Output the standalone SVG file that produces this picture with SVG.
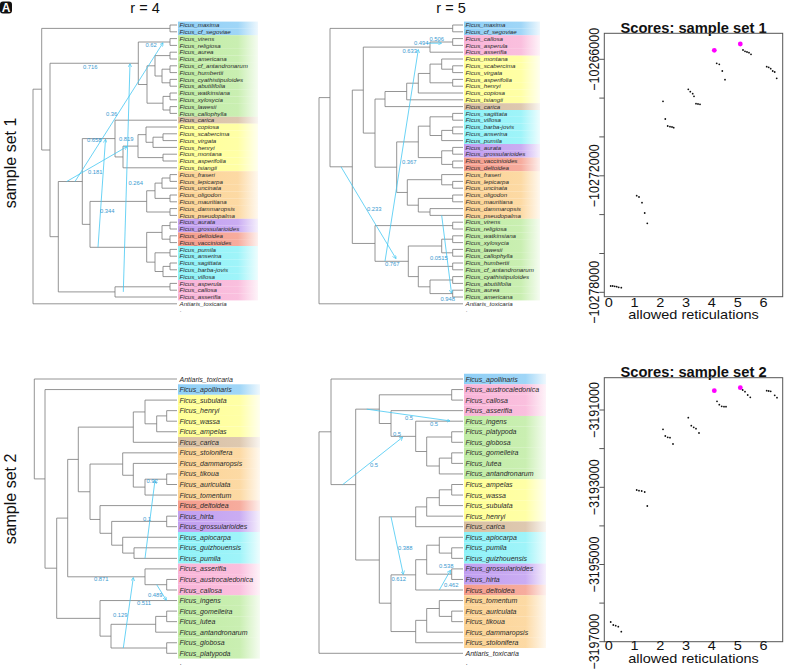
<svg xmlns="http://www.w3.org/2000/svg" width="785" height="670" viewBox="0 0 785 670">
<style>
.e{fill:none;stroke:#7a7a7a;stroke-width:0.8}
.r{fill:none;stroke:#45c8f2;stroke-width:0.8;marker-end:url(#ah)}
.rl{font-family:"Liberation Sans",Arial,sans-serif;font-size:5.8px;fill:#3a9ad0}
.lt{font-family:"Liberation Sans",Arial,sans-serif;font-style:italic;font-size:6.2px;fill:#2a2a2a}
.lb{font-family:"Liberation Sans",Arial,sans-serif;font-style:italic;font-size:7px;fill:#2a2a2a}
.ax{font-family:"Liberation Sans",Arial,sans-serif;font-size:14.5px;fill:#111}
.ti{font-family:"Liberation Sans",Arial,sans-serif;font-size:14.7px;font-weight:bold;fill:#111}
.hd{font-family:"Liberation Sans",Arial,sans-serif;font-size:16px;fill:#111}
.bB{fill:url(#gB)}.bG{fill:url(#gG)}.bBr{fill:url(#gBr)}.bY{fill:url(#gY)}.bO{fill:url(#gO)}.bP{fill:url(#gP)}.bR{fill:url(#gR)}.bC{fill:url(#gC)}.bK{fill:url(#gK)}
.box{fill:none;stroke:#555;stroke-width:1}
.tk{fill:none;stroke:#555;stroke-width:1}
.pt{fill:#111}
.mg{fill:#ff00ff}
</style>
<defs>
<marker id="ah" viewBox="0 0 10 10" refX="9" refY="5" markerWidth="4" markerHeight="4" orient="auto" markerUnits="userSpaceOnUse"><path d="M0,0 L9,5 L0,10" fill="none" stroke="#45c8f2" stroke-width="1.6"/></marker>
<linearGradient id="gB"><stop offset="0" stop-color="#8fcff6"/><stop offset="0.75" stop-color="#8fcff6" stop-opacity="0.85"/><stop offset="1" stop-color="#8fcff6" stop-opacity="0.15"/></linearGradient>
<linearGradient id="gG"><stop offset="0" stop-color="#c0eca4"/><stop offset="0.75" stop-color="#c0eca4" stop-opacity="0.85"/><stop offset="1" stop-color="#c0eca4" stop-opacity="0.15"/></linearGradient>
<linearGradient id="gBr"><stop offset="0" stop-color="#d8bfa2"/><stop offset="0.75" stop-color="#d8bfa2" stop-opacity="0.85"/><stop offset="1" stop-color="#d8bfa2" stop-opacity="0.15"/></linearGradient>
<linearGradient id="gY"><stop offset="0" stop-color="#ffff96"/><stop offset="0.75" stop-color="#ffff96" stop-opacity="0.85"/><stop offset="1" stop-color="#ffff96" stop-opacity="0.15"/></linearGradient>
<linearGradient id="gO"><stop offset="0" stop-color="#fcd394"/><stop offset="0.75" stop-color="#fcd394" stop-opacity="0.85"/><stop offset="1" stop-color="#fcd394" stop-opacity="0.15"/></linearGradient>
<linearGradient id="gP"><stop offset="0" stop-color="#c19ef0"/><stop offset="0.75" stop-color="#c19ef0" stop-opacity="0.85"/><stop offset="1" stop-color="#c19ef0" stop-opacity="0.15"/></linearGradient>
<linearGradient id="gR"><stop offset="0" stop-color="#f59d8c"/><stop offset="0.75" stop-color="#f59d8c" stop-opacity="0.85"/><stop offset="1" stop-color="#f59d8c" stop-opacity="0.15"/></linearGradient>
<linearGradient id="gC"><stop offset="0" stop-color="#8ef2f8"/><stop offset="0.75" stop-color="#8ef2f8" stop-opacity="0.85"/><stop offset="1" stop-color="#8ef2f8" stop-opacity="0.15"/></linearGradient>
<linearGradient id="gK"><stop offset="0" stop-color="#f9b4d8"/><stop offset="0.75" stop-color="#f9b4d8" stop-opacity="0.85"/><stop offset="1" stop-color="#f9b4d8" stop-opacity="0.15"/></linearGradient>
</defs>
<rect width="785" height="670" fill="#fff"/>

<g id="headers">
<rect x="0" y="1.5" width="12" height="12" rx="3" fill="#111"/>
<text x="6" y="12" text-anchor="middle" style="font-family:'Liberation Sans',Arial,sans-serif;font-size:12px;font-weight:bold;fill:#fff">A</text>
<text class="hd" x="145" y="12.5" text-anchor="middle" style="font-size:14.5px">r = 4</text>
<text class="hd" x="451" y="12.5" text-anchor="middle" style="font-size:14.5px">r = 5</text>
<text class="hd" transform="translate(15.5,163) rotate(-90)" text-anchor="middle">sample set 1</text>
<text class="hd" transform="translate(15.5,499) rotate(-90)" text-anchor="middle">sample set 2</text>
</g>

<g id="connectors">
<path id="tl-edges" class="e" d="M170 25V31.8M170 25H177M170 31.8H177M170 38.6V45.4M170 38.6H177M170 45.4H177M170 52.2V59M170 52.2H177M170 59H177M170 65.8V72.6M170 65.8H177M170 72.6H177M170 79.4V86.2M170 79.4H177M170 86.2H177M170 93V99.8M170 93H177M170 99.8H177M170 106.6V113.4M170 106.6H177M170 113.4H177M162 69.2V82.8M162 69.2H170M162 82.8H170M155 55.6V76M155 55.6H170M155 76H162M163 96.4V110M163 96.4H170M163 110H170M147 65.8V103.2M147 65.8H155M147 103.2H163M138.3 42V84.5M138.3 42H170M138.3 84.5H147M115 120.2H177M146 127H177M163 133.8V140.6M163 133.8H177M163 140.6H177M153 137.2V147.4M153 137.2H163M153 147.4H177M146 127V142.3M146 142.3H153M163 154.2V161M163 154.2H177M163 161H177M138 134.65V157.6M138 134.65H146M138 157.6H163M123 146.1V167.8M123 146.1H138M123 167.8H177M115 120.2V156.95M115 156.95H123M170 174.6V181.4M170 174.6H177M170 181.4H177M162 178V188.2M162 178H170M162 188.2H177M170 195V201.8M170 195H177M170 201.8H177M155 183.1V198.4M155 183.1H162M155 198.4H170M170 208.6V215.4M170 208.6H177M170 215.4H177M146.7 190.75V212M146.7 190.75H155M146.7 212H170M170 222.2V229M170 222.2H177M170 229H177M170 235.8V242.6M170 235.8H177M170 242.6H177M162 225.6V239.2M162 225.6H170M162 239.2H170M170 249.4V256.2M170 249.4H177M170 256.2H177M170 263V269.8M170 263H177M170 269.8H177M163 266.4V276.6M163 266.4H170M163 276.6H177M155 252.8V271.5M155 252.8H170M155 271.5H163M146.7 232.4V262.15M146.7 232.4H162M146.7 262.15H155M90 201.4V247.3M90 201.4H146.7M90 247.3H146.7M82.3 138.6V224.35M82.3 138.6H115M82.3 224.35H90M170 283.4V290.2M170 283.4H177M170 290.2H177M115 286.8V297M115 286.8H170M115 297H177M58.3 181.5V291.9M58.3 181.5H82.3M58.3 291.9H115M50 63.25V236.7M50 63.25H138.3M50 236.7H58.3M41.7 28.4V150M41.7 28.4H170M41.7 150H50M33 89.2V303.8M33 89.2H41.7M33 303.8H177"/>
<path id="tm-edges" class="e" d="M452.7 25V31.8M452.7 25H463M452.7 31.8H463M452.7 38.6V45.4M452.7 38.6H463M452.7 45.4H463M430 42V52.2M430 42H452.7M430 52.2H463M452.7 65.8V72.6M452.7 65.8H463M452.7 72.6H463M441.7 59V69.2M441.7 59H463M441.7 69.2H452.7M452.7 79.4V86.2M452.7 79.4H463M452.7 86.2H463M430 64.1V82.8M430 64.1H441.7M430 82.8H452.7M418.3 73.45V93M418.3 73.45H430M418.3 93H463M406.7 83.2V99.8M406.7 83.2H418.3M406.7 99.8H463M385 91.5V106.6M385 91.5H406.7M385 106.6H463M452.7 113.4V120.2M452.7 113.4H463M452.7 120.2H463M452.7 127V133.8M452.7 127H463M452.7 133.8H463M441.7 130.4V140.6M441.7 130.4H452.7M441.7 140.6H463M430 116.8V135.5M430 116.8H452.7M430 135.5H441.7M452.7 147.4V154.2M452.7 147.4H463M452.7 154.2H463M452.7 161V167.8M452.7 161H463M452.7 167.8H463M441.7 150.8V164.4M441.7 150.8H452.7M441.7 164.4H452.7M418.3 126.15V157.6M418.3 126.15H430M418.3 157.6H441.7M452.7 181.4V188.2M452.7 181.4H463M452.7 188.2H463M441.7 174.6V184.8M441.7 174.6H463M441.7 184.8H452.7M452.7 195V201.8M452.7 195H463M452.7 201.8H463M430 208.6V215.4M430 208.6H463M430 215.4H463M418.3 198.4V212M418.3 198.4H452.7M418.3 212H430M407.3 179.7V205.2M407.3 179.7H441.7M407.3 205.2H418.3M396.7 141.9V192.45M396.7 141.9H418.3M396.7 192.45H407.3M375 99.05V167.2M375 99.05H385M375 167.2H396.7M363.3 47.1V133.1M363.3 47.1H430M363.3 133.1H375M452.7 222.2V229M452.7 222.2H463M452.7 229H463M452.7 235.8V242.6M452.7 235.8H463M452.7 242.6H463M452.7 249.4V256.2M452.7 249.4H463M452.7 256.2H463M441.7 239.2V252.8M441.7 239.2H452.7M441.7 252.8H452.7M452.7 263V269.8M452.7 263H463M452.7 269.8H463M452.7 276.6V283.4M452.7 276.6H463M452.7 283.4H463M452.7 290.2V297M452.7 290.2H463M452.7 297H463M430 280V293.6M430 280H452.7M430 293.6H452.7M418.3 266.4V286.8M418.3 266.4H452.7M418.3 286.8H430M408.3 246V276.6M408.3 246H441.7M408.3 276.6H418.3M375 225.6V261.3M375 225.6H452.7M375 261.3H408.3M352.3 90.1V243.45M352.3 90.1H363.3M352.3 243.45H375M330 28.4V166.8M330 28.4H452.7M330 166.8H352.3M319 97.6V303.8M319 97.6H330M319 303.8H463"/>
<path id="bl-edges" class="e" d="M34.3 379V478.9M34.3 379H177M34.3 478.9H45M45 389.55V568.2M45 389.55H177M45 568.2H56.7M166.7 410.65V421.2M166.7 410.65H177M166.7 421.2H177M156.7 415.9V431.75M156.7 415.9H166.7M156.7 431.75H177M145 400.1V423.8M145 400.1H177M145 423.8H156.7M133.3 411.95V442.3M133.3 411.95H145M133.3 442.3H177M166.7 473.95V484.5M166.7 473.95H177M166.7 484.5H177M145 479.2V495.05M145 479.2H166.7M145 495.05H177M133.3 463.4V487.1M133.3 463.4H177M133.3 487.1H145M122.7 452.85V475.25M122.7 452.85H177M122.7 475.25H133.3M166.7 516.15V526.7M166.7 516.15H177M166.7 526.7H177M134 547.8V558.35M134 547.8H177M134 558.35H177M122.7 537.25V553.1M122.7 537.25H177M122.7 553.1H134M111.7 521.4V545.2M111.7 521.4H166.7M111.7 545.2H122.7M100 505.6V533.3M100 505.6H177M100 533.3H111.7M90 464.05V519.45M90 464.05H122.7M90 519.45H100M78.3 427.1V491.75M78.3 427.1H133.3M78.3 491.75H90M166.7 579.45V590M166.7 579.45H177M166.7 590H177M145 568.9V584.7M145 568.9H177M145 584.7H166.7M67.7 459.4V576.8M67.7 459.4H78.3M67.7 576.8H145M166.7 611.1V621.65M166.7 611.1H177M166.7 621.65H177M155.7 616.4V632.2M155.7 616.4H166.7M155.7 632.2H177M166.7 642.75V653.3M166.7 642.75H177M166.7 653.3H177M111 624.3V648M111 624.3H155.7M111 648H166.7M100 600.55V636.15M100 600.55H177M100 636.15H111M56.7 518.1V618.35M56.7 518.1H67.7M56.7 618.35H100"/>
<path id="bm-edges" class="e" d="M319 431.8V653.3M319 431.8H331M319 653.3H463M331 379V484.6M331 379H463M331 484.6H355.7M451.7 389.55V400.1M451.7 389.55H463M451.7 400.1H463M451.7 431.75V442.3M451.7 431.75H463M451.7 442.3H463M451.7 452.85V463.4M451.7 452.85H463M451.7 463.4H463M439.3 458.1V473.95M439.3 458.1H451.7M439.3 473.95H463M426.7 437V466M426.7 437H451.7M426.7 466H439.3M415.7 421.2V451.5M415.7 421.2H463M415.7 451.5H426.7M391 410.65V436.35M391 410.65H463M391 436.35H415.7M379.3 394.8V423.5M379.3 394.8H451.7M379.3 423.5H391M451.7 484.5V495.05M451.7 484.5H463M451.7 495.05H463M439.3 489.8V505.6M439.3 489.8H451.7M439.3 505.6H463M426.7 497.7V516.15M426.7 497.7H439.3M426.7 516.15H463M415.7 506.9V526.7M415.7 506.9H426.7M415.7 526.7H463M451.7 547.8V558.35M451.7 547.8H463M451.7 558.35H463M439.3 537.25V553.1M439.3 537.25H463M439.3 553.1H451.7M451.7 568.9V579.45M451.7 568.9H463M451.7 579.45H463M426.7 545.2V574.2M426.7 545.2H439.3M426.7 574.2H451.7M415.7 559.7V590M415.7 559.7H426.7M415.7 590H463M451.7 611.1V621.65M451.7 611.1H463M451.7 621.65H463M439.3 600.55V616.4M439.3 600.55H463M439.3 616.4H451.7M426.7 608.5V632.2M426.7 608.5H439.3M426.7 632.2H463M415.7 620.35V642.75M415.7 620.35H426.7M415.7 642.75H463M391 574.85V631.55M391 574.85H415.7M391 631.55H415.7M379.3 516.8V603.2M379.3 516.8H415.7M379.3 603.2H391M355.7 409.15V560M355.7 409.15H379.3M355.7 560H379.3"/>
<g id="reticulations">
<path class="r" d="M75 181.5L163 42.8"/>
<path class="r" d="M66.7 181.5L127 146.6"/>
<path class="r" d="M98 247.3L105.5 139.2"/>
<path class="r" d="M123.3 291.9L130 63.8"/>
<path class="r" d="M427 43.2L441.5 43.2"/>
<path class="r" d="M385 261.3L418.3 49.6"/>
<path class="r" d="M341 166.8L396 258.6"/>
<path class="r" d="M441.7 215.4L451.5 293.2"/>
<path class="r" d="M145 558.35L155 480.2"/>
<path class="r" d="M123.3 648L133.3 577.6"/>
<path class="r" d="M156.7 584.7L166.3 600.2"/>
<path class="r" d="M366.7 409.15L450 420.9"/>
<path class="r" d="M342.7 484.6L402.7 437.2"/>
<path class="r" d="M391 516.8L403.3 574.4"/>
<path class="r" d="M439.3 590L450.5 570.2"/>
</g>
<g id="ret-labels">
<text class="rl" x="106" y="116">0.36</text>
<text class="rl" x="145.5" y="46.5">0.62</text>
<text class="rl" x="88" y="174">0.181</text>
<text class="rl" x="119" y="140.5">0.819</text>
<text class="rl" x="100" y="213">0.344</text>
<text class="rl" x="87" y="141.5">0.658</text>
<text class="rl" x="128.5" y="185">0.264</text>
<text class="rl" x="83" y="68.5">0.716</text>
<text class="rl" x="429.5" y="40.5">0.506</text>
<text class="rl" x="414" y="44.5">0.494</text>
<text class="rl" x="402.5" y="52.5">0.633</text>
<text class="rl" x="402" y="163.5">0.367</text>
<text class="rl" x="367" y="211">0.233</text>
<text class="rl" x="385" y="266">0.767</text>
<text class="rl" x="430" y="260">0.0515</text>
<text class="rl" x="440.5" y="301">0.948</text>
<text class="rl" x="146.5" y="483">0.92</text>
<text class="rl" x="143" y="521">0.1</text>
<text class="rl" x="113" y="617">0.129</text>
<text class="rl" x="94" y="581">0.871</text>
<text class="rl" x="148" y="597">0.489</text>
<text class="rl" x="137" y="605">0.511</text>
<text class="rl" x="405" y="420">0.5</text>
<text class="rl" x="430" y="426">0.5</text>
<text class="rl" x="370" y="467">0.5</text>
<text class="rl" x="393" y="436">0.5</text>
<text class="rl" x="398" y="550">0.388</text>
<text class="rl" x="391.5" y="581">0.612</text>
<text class="rl" x="439" y="567.5">0.538</text>
<text class="rl" x="444" y="587">0.462</text>
</g>
</g>

<g id="tl-leaves">
<g id="tl0"><rect class="bB" x="178" y="21.6" width="80" height="6.8"/><text class="lt" x="179.5" y="27.1">Ficus_maxima</text></g>
<g id="tl1"><rect class="bB" x="178" y="28.4" width="80" height="6.8"/><text class="lt" x="179.5" y="33.9">Ficus_cf_segoviae</text></g>
<g id="tl2"><rect class="bG" x="178" y="35.2" width="80" height="6.8"/><text class="lt" x="179.5" y="40.7">Ficus_virens</text></g>
<g id="tl3"><rect class="bG" x="178" y="42" width="80" height="6.8"/><text class="lt" x="179.5" y="47.5">Ficus_religiosa</text></g>
<g id="tl4"><rect class="bG" x="178" y="48.8" width="80" height="6.8"/><text class="lt" x="179.5" y="54.3">Ficus_aurea</text></g>
<g id="tl5"><rect class="bG" x="178" y="55.6" width="80" height="6.8"/><text class="lt" x="179.5" y="61.1">Ficus_americana</text></g>
<g id="tl6"><rect class="bG" x="178" y="62.4" width="80" height="6.8"/><text class="lt" x="179.5" y="67.9">Ficus_cf_antandronarum</text></g>
<g id="tl7"><rect class="bG" x="178" y="69.2" width="80" height="6.8"/><text class="lt" x="179.5" y="74.7">Ficus_humbertii</text></g>
<g id="tl8"><rect class="bG" x="178" y="76" width="80" height="6.8"/><text class="lt" x="179.5" y="81.5">Ficus_cyathistipuloides</text></g>
<g id="tl9"><rect class="bG" x="178" y="82.8" width="80" height="6.8"/><text class="lt" x="179.5" y="88.3">Ficus_abutilifolia</text></g>
<g id="tl10"><rect class="bG" x="178" y="89.6" width="80" height="6.8"/><text class="lt" x="179.5" y="95.1">Ficus_watkinsiana</text></g>
<g id="tl11"><rect class="bG" x="178" y="96.4" width="80" height="6.8"/><text class="lt" x="179.5" y="101.9">Ficus_xylosycia</text></g>
<g id="tl12"><rect class="bG" x="178" y="103.2" width="80" height="6.8"/><text class="lt" x="179.5" y="108.7">Ficus_lawesii</text></g>
<g id="tl13"><rect class="bG" x="178" y="110" width="80" height="6.8"/><text class="lt" x="179.5" y="115.5">Ficus_callophylla</text></g>
<g id="tl14"><rect class="bBr" x="178" y="116.8" width="80" height="6.8"/><text class="lt" x="179.5" y="122.3">Ficus_carica</text></g>
<g id="tl15"><rect class="bY" x="178" y="123.6" width="80" height="6.8"/><text class="lt" x="179.5" y="129.1">Ficus_copiosa</text></g>
<g id="tl16"><rect class="bY" x="178" y="130.4" width="80" height="6.8"/><text class="lt" x="179.5" y="135.9">Ficus_scabercima</text></g>
<g id="tl17"><rect class="bY" x="178" y="137.2" width="80" height="6.8"/><text class="lt" x="179.5" y="142.7">Ficus_virgata</text></g>
<g id="tl18"><rect class="bY" x="178" y="144" width="80" height="6.8"/><text class="lt" x="179.5" y="149.5">Ficus_henryi</text></g>
<g id="tl19"><rect class="bY" x="178" y="150.8" width="80" height="6.8"/><text class="lt" x="179.5" y="156.3">Ficus_montana</text></g>
<g id="tl20"><rect class="bY" x="178" y="157.6" width="80" height="6.8"/><text class="lt" x="179.5" y="163.1">Ficus_asperifolia</text></g>
<g id="tl21"><rect class="bY" x="178" y="164.4" width="80" height="6.8"/><text class="lt" x="179.5" y="169.9">Ficus_tsiangii</text></g>
<g id="tl22"><rect class="bO" x="178" y="171.2" width="80" height="6.8"/><text class="lt" x="179.5" y="176.7">Ficus_fraseri</text></g>
<g id="tl23"><rect class="bO" x="178" y="178" width="80" height="6.8"/><text class="lt" x="179.5" y="183.5">Ficus_lepicarpa</text></g>
<g id="tl24"><rect class="bO" x="178" y="184.8" width="80" height="6.8"/><text class="lt" x="179.5" y="190.3">Ficus_uncinata</text></g>
<g id="tl25"><rect class="bO" x="178" y="191.6" width="80" height="6.8"/><text class="lt" x="179.5" y="197.1">Ficus_oligodon</text></g>
<g id="tl26"><rect class="bO" x="178" y="198.4" width="80" height="6.8"/><text class="lt" x="179.5" y="203.9">Ficus_mauritiana</text></g>
<g id="tl27"><rect class="bO" x="178" y="205.2" width="80" height="6.8"/><text class="lt" x="179.5" y="210.7">Ficus_dammaropsis</text></g>
<g id="tl28"><rect class="bO" x="178" y="212" width="80" height="6.8"/><text class="lt" x="179.5" y="217.5">Ficus_pseudopalma</text></g>
<g id="tl29"><rect class="bP" x="178" y="218.8" width="80" height="6.8"/><text class="lt" x="179.5" y="224.3">Ficus_aurata</text></g>
<g id="tl30"><rect class="bP" x="178" y="225.6" width="80" height="6.8"/><text class="lt" x="179.5" y="231.1">Ficus_grossularioides</text></g>
<g id="tl31"><rect class="bR" x="178" y="232.4" width="80" height="6.8"/><text class="lt" x="179.5" y="237.9">Ficus_deltoidea</text></g>
<g id="tl32"><rect class="bR" x="178" y="239.2" width="80" height="6.8"/><text class="lt" x="179.5" y="244.7">Ficus_vaccinioides</text></g>
<g id="tl33"><rect class="bC" x="178" y="246" width="80" height="6.8"/><text class="lt" x="179.5" y="251.5">Ficus_pumila</text></g>
<g id="tl34"><rect class="bC" x="178" y="252.8" width="80" height="6.8"/><text class="lt" x="179.5" y="258.3">Ficus_anserina</text></g>
<g id="tl35"><rect class="bC" x="178" y="259.6" width="80" height="6.8"/><text class="lt" x="179.5" y="265.1">Ficus_sagittata</text></g>
<g id="tl36"><rect class="bC" x="178" y="266.4" width="80" height="6.8"/><text class="lt" x="179.5" y="271.9">Ficus_barba-jovis</text></g>
<g id="tl37"><rect class="bC" x="178" y="273.2" width="80" height="6.8"/><text class="lt" x="179.5" y="278.7">Ficus_villosa</text></g>
<g id="tl38"><rect class="bK" x="178" y="280" width="80" height="6.8"/><text class="lt" x="179.5" y="285.5">Ficus_asperula</text></g>
<g id="tl39"><rect class="bK" x="178" y="286.8" width="80" height="6.8"/><text class="lt" x="179.5" y="292.3">Ficus_callosa</text></g>
<g id="tl40"><rect class="bK" x="178" y="293.6" width="80" height="6.8"/><text class="lt" x="179.5" y="299.1">Ficus_asserifia</text></g>
<g id="tl41"><text class="lt" x="179.5" y="305.9">Antiaris_toxicaria</text></g>
<text class="lt" x="180" y="312" fill="#777">.</text>
</g>

<g id="tm-leaves">
<g id="tm0"><rect class="bB" x="464" y="21.6" width="76" height="6.8"/><text class="lt" x="465.5" y="27.1">Ficus_maxima</text></g>
<g id="tm1"><rect class="bB" x="464" y="28.4" width="76" height="6.8"/><text class="lt" x="465.5" y="33.9">Ficus_cf_segoviae</text></g>
<g id="tm2"><rect class="bK" x="464" y="35.2" width="76" height="6.8"/><text class="lt" x="465.5" y="40.7">Ficus_callosa</text></g>
<g id="tm3"><rect class="bK" x="464" y="42" width="76" height="6.8"/><text class="lt" x="465.5" y="47.5">Ficus_asperula</text></g>
<g id="tm4"><rect class="bK" x="464" y="48.8" width="76" height="6.8"/><text class="lt" x="465.5" y="54.3">Ficus_asserifia</text></g>
<g id="tm5"><rect class="bY" x="464" y="55.6" width="76" height="6.8"/><text class="lt" x="465.5" y="61.1">Ficus_montana</text></g>
<g id="tm6"><rect class="bY" x="464" y="62.4" width="76" height="6.8"/><text class="lt" x="465.5" y="67.9">Ficus_scabercima</text></g>
<g id="tm7"><rect class="bY" x="464" y="69.2" width="76" height="6.8"/><text class="lt" x="465.5" y="74.7">Ficus_virgata</text></g>
<g id="tm8"><rect class="bY" x="464" y="76" width="76" height="6.8"/><text class="lt" x="465.5" y="81.5">Ficus_asperifolia</text></g>
<g id="tm9"><rect class="bY" x="464" y="82.8" width="76" height="6.8"/><text class="lt" x="465.5" y="88.3">Ficus_henryi</text></g>
<g id="tm10"><rect class="bY" x="464" y="89.6" width="76" height="6.8"/><text class="lt" x="465.5" y="95.1">Ficus_copiosa</text></g>
<g id="tm11"><rect class="bY" x="464" y="96.4" width="76" height="6.8"/><text class="lt" x="465.5" y="101.9">Ficus_tsiangii</text></g>
<g id="tm12"><rect class="bBr" x="464" y="103.2" width="76" height="6.8"/><text class="lt" x="465.5" y="108.7">Ficus_carica</text></g>
<g id="tm13"><rect class="bC" x="464" y="110" width="76" height="6.8"/><text class="lt" x="465.5" y="115.5">Ficus_sagittata</text></g>
<g id="tm14"><rect class="bC" x="464" y="116.8" width="76" height="6.8"/><text class="lt" x="465.5" y="122.3">Ficus_villosa</text></g>
<g id="tm15"><rect class="bC" x="464" y="123.6" width="76" height="6.8"/><text class="lt" x="465.5" y="129.1">Ficus_barba-jovis</text></g>
<g id="tm16"><rect class="bC" x="464" y="130.4" width="76" height="6.8"/><text class="lt" x="465.5" y="135.9">Ficus_anserina</text></g>
<g id="tm17"><rect class="bC" x="464" y="137.2" width="76" height="6.8"/><text class="lt" x="465.5" y="142.7">Ficus_pumila</text></g>
<g id="tm18"><rect class="bP" x="464" y="144" width="76" height="6.8"/><text class="lt" x="465.5" y="149.5">Ficus_aurata</text></g>
<g id="tm19"><rect class="bP" x="464" y="150.8" width="76" height="6.8"/><text class="lt" x="465.5" y="156.3">Ficus_grossularioides</text></g>
<g id="tm20"><rect class="bR" x="464" y="157.6" width="76" height="6.8"/><text class="lt" x="465.5" y="163.1">Ficus_vaccinioides</text></g>
<g id="tm21"><rect class="bR" x="464" y="164.4" width="76" height="6.8"/><text class="lt" x="465.5" y="169.9">Ficus_deltoidea</text></g>
<g id="tm22"><rect class="bO" x="464" y="171.2" width="76" height="6.8"/><text class="lt" x="465.5" y="176.7">Ficus_fraseri</text></g>
<g id="tm23"><rect class="bO" x="464" y="178" width="76" height="6.8"/><text class="lt" x="465.5" y="183.5">Ficus_lepicarpa</text></g>
<g id="tm24"><rect class="bO" x="464" y="184.8" width="76" height="6.8"/><text class="lt" x="465.5" y="190.3">Ficus_uncinata</text></g>
<g id="tm25"><rect class="bO" x="464" y="191.6" width="76" height="6.8"/><text class="lt" x="465.5" y="197.1">Ficus_oligodon</text></g>
<g id="tm26"><rect class="bO" x="464" y="198.4" width="76" height="6.8"/><text class="lt" x="465.5" y="203.9">Ficus_mauritiana</text></g>
<g id="tm27"><rect class="bO" x="464" y="205.2" width="76" height="6.8"/><text class="lt" x="465.5" y="210.7">Ficus_dammaropsis</text></g>
<g id="tm28"><rect class="bO" x="464" y="212" width="76" height="6.8"/><text class="lt" x="465.5" y="217.5">Ficus_pseudopalma</text></g>
<g id="tm29"><rect class="bG" x="464" y="218.8" width="76" height="6.8"/><text class="lt" x="465.5" y="224.3">Ficus_virens</text></g>
<g id="tm30"><rect class="bG" x="464" y="225.6" width="76" height="6.8"/><text class="lt" x="465.5" y="231.1">Ficus_religiosa</text></g>
<g id="tm31"><rect class="bG" x="464" y="232.4" width="76" height="6.8"/><text class="lt" x="465.5" y="237.9">Ficus_watkinsiana</text></g>
<g id="tm32"><rect class="bG" x="464" y="239.2" width="76" height="6.8"/><text class="lt" x="465.5" y="244.7">Ficus_xylosycia</text></g>
<g id="tm33"><rect class="bG" x="464" y="246" width="76" height="6.8"/><text class="lt" x="465.5" y="251.5">Ficus_lawesii</text></g>
<g id="tm34"><rect class="bG" x="464" y="252.8" width="76" height="6.8"/><text class="lt" x="465.5" y="258.3">Ficus_callophylla</text></g>
<g id="tm35"><rect class="bG" x="464" y="259.6" width="76" height="6.8"/><text class="lt" x="465.5" y="265.1">Ficus_humbertii</text></g>
<g id="tm36"><rect class="bG" x="464" y="266.4" width="76" height="6.8"/><text class="lt" x="465.5" y="271.9">Ficus_cf_antandronarum</text></g>
<g id="tm37"><rect class="bG" x="464" y="273.2" width="76" height="6.8"/><text class="lt" x="465.5" y="278.7">Ficus_cyathistipuloides</text></g>
<g id="tm38"><rect class="bG" x="464" y="280" width="76" height="6.8"/><text class="lt" x="465.5" y="285.5">Ficus_abutilifolia</text></g>
<g id="tm39"><rect class="bG" x="464" y="286.8" width="76" height="6.8"/><text class="lt" x="465.5" y="292.3">Ficus_aurea</text></g>
<g id="tm40"><rect class="bG" x="464" y="293.6" width="76" height="6.8"/><text class="lt" x="465.5" y="299.1">Ficus_americana</text></g>
<g id="tm41"><text class="lt" x="465.5" y="305.9">Antiaris_toxicaria</text></g>
<text class="lt" x="466" y="312" fill="#777">.</text>
</g>

<g id="bl-leaves">
<g id="bl0"><text class="lb" x="179.5" y="381.5">Antiaris_toxicaria</text></g>
<g id="bl1"><rect class="bB" x="178" y="384.28" width="82" height="10.55"/><text class="lb" x="179.5" y="392.05">Ficus_apollinaris</text></g>
<g id="bl2"><rect class="bY" x="178" y="394.83" width="82" height="10.55"/><text class="lb" x="179.5" y="402.6">Ficus_subulata</text></g>
<g id="bl3"><rect class="bY" x="178" y="405.38" width="82" height="10.55"/><text class="lb" x="179.5" y="413.15">Ficus_henryi</text></g>
<g id="bl4"><rect class="bY" x="178" y="415.93" width="82" height="10.55"/><text class="lb" x="179.5" y="423.7">Ficus_wassa</text></g>
<g id="bl5"><rect class="bY" x="178" y="426.48" width="82" height="10.55"/><text class="lb" x="179.5" y="434.25">Ficus_ampelas</text></g>
<g id="bl6"><rect class="bBr" x="178" y="437.03" width="82" height="10.55"/><text class="lb" x="179.5" y="444.8">Ficus_carica</text></g>
<g id="bl7"><rect class="bO" x="178" y="447.58" width="82" height="10.55"/><text class="lb" x="179.5" y="455.35">Ficus_stolonifera</text></g>
<g id="bl8"><rect class="bO" x="178" y="458.13" width="82" height="10.55"/><text class="lb" x="179.5" y="465.9">Ficus_dammaropsis</text></g>
<g id="bl9"><rect class="bO" x="178" y="468.68" width="82" height="10.55"/><text class="lb" x="179.5" y="476.45">Ficus_tikoua</text></g>
<g id="bl10"><rect class="bO" x="178" y="479.23" width="82" height="10.55"/><text class="lb" x="179.5" y="487">Ficus_auriculata</text></g>
<g id="bl11"><rect class="bO" x="178" y="489.78" width="82" height="10.55"/><text class="lb" x="179.5" y="497.55">Ficus_tomentum</text></g>
<g id="bl12"><rect class="bR" x="178" y="500.33" width="82" height="10.55"/><text class="lb" x="179.5" y="508.1">Ficus_deltoidea</text></g>
<g id="bl13"><rect class="bP" x="178" y="510.88" width="82" height="10.55"/><text class="lb" x="179.5" y="518.65">Ficus_hirta</text></g>
<g id="bl14"><rect class="bP" x="178" y="521.43" width="82" height="10.55"/><text class="lb" x="179.5" y="529.2">Ficus_grossularioides</text></g>
<g id="bl15"><rect class="bC" x="178" y="531.98" width="82" height="10.55"/><text class="lb" x="179.5" y="539.75">Ficus_apiocarpa</text></g>
<g id="bl16"><rect class="bC" x="178" y="542.53" width="82" height="10.55"/><text class="lb" x="179.5" y="550.3">Ficus_guizhouensis</text></g>
<g id="bl17"><rect class="bC" x="178" y="553.08" width="82" height="10.55"/><text class="lb" x="179.5" y="560.85">Ficus_pumila</text></g>
<g id="bl18"><rect class="bK" x="178" y="563.63" width="82" height="10.55"/><text class="lb" x="179.5" y="571.4">Ficus_asserifia</text></g>
<g id="bl19"><rect class="bK" x="178" y="574.18" width="82" height="10.55"/><text class="lb" x="179.5" y="581.95">Ficus_austrocaledonica</text></g>
<g id="bl20"><rect class="bK" x="178" y="584.73" width="82" height="10.55"/><text class="lb" x="179.5" y="592.5">Ficus_callosa</text></g>
<g id="bl21"><rect class="bG" x="178" y="595.28" width="82" height="10.55"/><text class="lb" x="179.5" y="603.05">Ficus_ingens</text></g>
<g id="bl22"><rect class="bG" x="178" y="605.83" width="82" height="10.55"/><text class="lb" x="179.5" y="613.6">Ficus_gomelleira</text></g>
<g id="bl23"><rect class="bG" x="178" y="616.38" width="82" height="10.55"/><text class="lb" x="179.5" y="624.15">Ficus_lutea</text></g>
<g id="bl24"><rect class="bG" x="178" y="626.93" width="82" height="10.55"/><text class="lb" x="179.5" y="634.7">Ficus_antandronarum</text></g>
<g id="bl25"><rect class="bG" x="178" y="637.48" width="82" height="10.55"/><text class="lb" x="179.5" y="645.25">Ficus_globosa</text></g>
<g id="bl26"><rect class="bG" x="178" y="648.03" width="82" height="10.55"/><text class="lb" x="179.5" y="655.8">Ficus_platypoda</text></g>
<text class="lb" x="180" y="665" fill="#777">.</text>
</g>

<g id="bm-leaves">
<g id="bm0"><rect class="bB" x="464" y="373.73" width="82" height="10.55"/><text class="lb" x="465.5" y="381.5">Ficus_apollinaris</text></g>
<g id="bm1"><rect class="bK" x="464" y="384.28" width="82" height="10.55"/><text class="lb" x="465.5" y="392.05">Ficus_austrocaledonica</text></g>
<g id="bm2"><rect class="bK" x="464" y="394.83" width="82" height="10.55"/><text class="lb" x="465.5" y="402.6">Ficus_callosa</text></g>
<g id="bm3"><rect class="bK" x="464" y="405.38" width="82" height="10.55"/><text class="lb" x="465.5" y="413.15">Ficus_asserifia</text></g>
<g id="bm4"><rect class="bG" x="464" y="415.93" width="82" height="10.55"/><text class="lb" x="465.5" y="423.7">Ficus_ingens</text></g>
<g id="bm5"><rect class="bG" x="464" y="426.48" width="82" height="10.55"/><text class="lb" x="465.5" y="434.25">Ficus_platypoda</text></g>
<g id="bm6"><rect class="bG" x="464" y="437.03" width="82" height="10.55"/><text class="lb" x="465.5" y="444.8">Ficus_globosa</text></g>
<g id="bm7"><rect class="bG" x="464" y="447.58" width="82" height="10.55"/><text class="lb" x="465.5" y="455.35">Ficus_gomelleira</text></g>
<g id="bm8"><rect class="bG" x="464" y="458.13" width="82" height="10.55"/><text class="lb" x="465.5" y="465.9">Ficus_lutea</text></g>
<g id="bm9"><rect class="bG" x="464" y="468.68" width="82" height="10.55"/><text class="lb" x="465.5" y="476.45">Ficus_antandronarum</text></g>
<g id="bm10"><rect class="bY" x="464" y="479.23" width="82" height="10.55"/><text class="lb" x="465.5" y="487">Ficus_ampelas</text></g>
<g id="bm11"><rect class="bY" x="464" y="489.78" width="82" height="10.55"/><text class="lb" x="465.5" y="497.55">Ficus_wassa</text></g>
<g id="bm12"><rect class="bY" x="464" y="500.33" width="82" height="10.55"/><text class="lb" x="465.5" y="508.1">Ficus_subulata</text></g>
<g id="bm13"><rect class="bY" x="464" y="510.88" width="82" height="10.55"/><text class="lb" x="465.5" y="518.65">Ficus_henryi</text></g>
<g id="bm14"><rect class="bBr" x="464" y="521.43" width="82" height="10.55"/><text class="lb" x="465.5" y="529.2">Ficus_carica</text></g>
<g id="bm15"><rect class="bC" x="464" y="531.98" width="82" height="10.55"/><text class="lb" x="465.5" y="539.75">Ficus_apiocarpa</text></g>
<g id="bm16"><rect class="bC" x="464" y="542.53" width="82" height="10.55"/><text class="lb" x="465.5" y="550.3">Ficus_pumila</text></g>
<g id="bm17"><rect class="bC" x="464" y="553.08" width="82" height="10.55"/><text class="lb" x="465.5" y="560.85">Ficus_guizhouensis</text></g>
<g id="bm18"><rect class="bP" x="464" y="563.63" width="82" height="10.55"/><text class="lb" x="465.5" y="571.4">Ficus_grossularioides</text></g>
<g id="bm19"><rect class="bP" x="464" y="574.18" width="82" height="10.55"/><text class="lb" x="465.5" y="581.95">Ficus_hirta</text></g>
<g id="bm20"><rect class="bR" x="464" y="584.73" width="82" height="10.55"/><text class="lb" x="465.5" y="592.5">Ficus_deltoidea</text></g>
<g id="bm21"><rect class="bO" x="464" y="595.28" width="82" height="10.55"/><text class="lb" x="465.5" y="603.05">Ficus_tomentum</text></g>
<g id="bm22"><rect class="bO" x="464" y="605.83" width="82" height="10.55"/><text class="lb" x="465.5" y="613.6">Ficus_auriculata</text></g>
<g id="bm23"><rect class="bO" x="464" y="616.38" width="82" height="10.55"/><text class="lb" x="465.5" y="624.15">Ficus_tikoua</text></g>
<g id="bm24"><rect class="bO" x="464" y="626.93" width="82" height="10.55"/><text class="lb" x="465.5" y="634.7">Ficus_dammaropsis</text></g>
<g id="bm25"><rect class="bO" x="464" y="637.48" width="82" height="10.55"/><text class="lb" x="465.5" y="645.25">Ficus_stolonifera</text></g>
<g id="bm26"><text class="lb" x="465.5" y="655.8">Antiaris_toxicaria</text></g>
<text class="lb" x="466" y="665" fill="#777">.</text>
</g>

<g id="plot1">
<text class="ti" x="693.5" y="33" text-anchor="middle">Scores: sample set 1</text>
<rect class="box" x="604.3" y="33.3" width="178.4" height="263.4"/>
<path class="tk" d="M599.3 59.3H604.3M599.3 98.1H604.3M599.3 136.9H604.3M599.3 175.8H604.3M599.3 214.6H604.3M599.3 253.5H604.3M599.3 292.3H604.3"/>
<text class="ax" transform="translate(598.5,59.3) rotate(-90) scale(0.86,1)" text-anchor="middle">−10266000</text>
<text class="ax" transform="translate(598.5,175.8) rotate(-90) scale(0.86,1)" text-anchor="middle">−10272000</text>
<text class="ax" transform="translate(598.5,292.3) rotate(-90) scale(0.86,1)" text-anchor="middle">−10278000</text>
<g text-anchor="middle">
<text class="ax" transform="translate(608.7,306.5) scale(1,0.86)">0</text><text class="ax" transform="translate(634.5,306.5) scale(1,0.86)">1</text><text class="ax" transform="translate(660.3,306.5) scale(1,0.86)">2</text><text class="ax" transform="translate(686.1,306.5) scale(1,0.86)">3</text><text class="ax" transform="translate(711.9,306.5) scale(1,0.86)">4</text><text class="ax" transform="translate(737.7,306.5) scale(1,0.86)">5</text><text class="ax" transform="translate(763.5,306.5) scale(1,0.86)">6</text>
<text class="ax" transform="translate(693.5,319) scale(1,0.86)">allowed reticulations</text>
</g>
<g id="pts1">
<circle class="mg" cx="714.3" cy="50.3" r="2.4"/><circle class="mg" cx="740.3" cy="44" r="2.4"/>
<circle class="pt" cx="663" cy="101.3" r="0.9"/><circle class="pt" cx="665.3" cy="119" r="0.9"/><circle class="pt" cx="667.7" cy="126" r="0.9"/><circle class="pt" cx="670" cy="126.7" r="0.9"/><circle class="pt" cx="672" cy="127" r="0.9"/><circle class="pt" cx="673.7" cy="127.7" r="0.9"/>
<circle class="pt" cx="688.3" cy="89.3" r="0.9"/><circle class="pt" cx="690.3" cy="91.7" r="0.9"/><circle class="pt" cx="692.7" cy="93.7" r="0.9"/><circle class="pt" cx="694" cy="96.3" r="0.9"/><circle class="pt" cx="696" cy="103.7" r="0.9"/><circle class="pt" cx="698" cy="104" r="0.9"/><circle class="pt" cx="700" cy="104.3" r="0.9"/>
<circle class="pt" cx="716.7" cy="63.3" r="0.9"/><circle class="pt" cx="719.3" cy="64.3" r="0.9"/><circle class="pt" cx="722.3" cy="71" r="0.9"/><circle class="pt" cx="725" cy="79.7" r="0.9"/>
<circle class="pt" cx="743" cy="50" r="0.9"/><circle class="pt" cx="745" cy="51.3" r="0.9"/><circle class="pt" cx="747" cy="52" r="0.9"/><circle class="pt" cx="749" cy="52.7" r="0.9"/><circle class="pt" cx="751" cy="54.3" r="0.9"/>
<circle class="pt" cx="766.7" cy="66.7" r="0.9"/><circle class="pt" cx="768.7" cy="67.3" r="0.9"/><circle class="pt" cx="770.7" cy="68.7" r="0.9"/><circle class="pt" cx="772.7" cy="71" r="0.9"/><circle class="pt" cx="774.7" cy="72" r="0.9"/><circle class="pt" cx="776.7" cy="78.3" r="0.9"/>
<circle class="pt" cx="636.7" cy="195.7" r="0.9"/><circle class="pt" cx="639" cy="197" r="0.9"/><circle class="pt" cx="642" cy="202.7" r="0.9"/><circle class="pt" cx="644.7" cy="213" r="0.9"/><circle class="pt" cx="647.3" cy="223.3" r="0.9"/>
<circle class="pt" cx="610.7" cy="286" r="0.9"/><circle class="pt" cx="612.7" cy="286" r="0.9"/><circle class="pt" cx="614.7" cy="286.3" r="0.9"/><circle class="pt" cx="616.7" cy="286.7" r="0.9"/><circle class="pt" cx="618.7" cy="287.3" r="0.9"/><circle class="pt" cx="621.3" cy="287.7" r="0.9"/>
</g>
</g>

<g id="plot2">
<text class="ti" x="693.5" y="377" text-anchor="middle">Scores: sample set 2</text>
<rect class="box" x="604.3" y="377.7" width="178.4" height="264"/>
<path class="tk" d="M599.3 410H604.3M599.3 448.6H604.3M599.3 487.3H604.3M599.3 525.9H604.3M599.3 564.5H604.3M599.3 603.1H604.3M599.3 641.7H604.3"/>
<text class="ax" transform="translate(598.5,410) rotate(-90) scale(0.86,1)" text-anchor="middle">−3191000</text>
<text class="ax" transform="translate(598.5,487.3) rotate(-90) scale(0.86,1)" text-anchor="middle">−3193000</text>
<text class="ax" transform="translate(598.5,564.5) rotate(-90) scale(0.86,1)" text-anchor="middle">−3195000</text>
<text class="ax" transform="translate(598.5,641.7) rotate(-90) scale(0.86,1)" text-anchor="middle">−3197000</text>
<g text-anchor="middle">
<text class="ax" transform="translate(608.7,650) scale(1,0.86)">0</text><text class="ax" transform="translate(634.5,650) scale(1,0.86)">1</text><text class="ax" transform="translate(660.3,650) scale(1,0.86)">2</text><text class="ax" transform="translate(686.1,650) scale(1,0.86)">3</text><text class="ax" transform="translate(711.9,650) scale(1,0.86)">4</text><text class="ax" transform="translate(737.7,650) scale(1,0.86)">5</text><text class="ax" transform="translate(763.5,650) scale(1,0.86)">6</text>
<text class="ax" transform="translate(693.5,662.5) scale(1,0.86)">allowed reticulations</text>
</g>
<g id="pts2">
<circle class="mg" cx="714.3" cy="390.7" r="2.4"/><circle class="mg" cx="740.3" cy="387.7" r="2.4"/>
<circle class="pt" cx="663" cy="429.3" r="0.9"/><circle class="pt" cx="665.3" cy="436" r="0.9"/><circle class="pt" cx="667.7" cy="437.3" r="0.9"/><circle class="pt" cx="670" cy="437.7" r="0.9"/><circle class="pt" cx="673" cy="444" r="0.9"/>
<circle class="pt" cx="688.3" cy="417.7" r="0.9"/><circle class="pt" cx="691.3" cy="425.7" r="0.9"/><circle class="pt" cx="693.7" cy="427.3" r="0.9"/><circle class="pt" cx="696" cy="428.7" r="0.9"/><circle class="pt" cx="699" cy="433" r="0.9"/>
<circle class="pt" cx="717" cy="401.3" r="0.9"/><circle class="pt" cx="719.3" cy="404.7" r="0.9"/><circle class="pt" cx="721.7" cy="406.3" r="0.9"/><circle class="pt" cx="724" cy="406.7" r="0.9"/><circle class="pt" cx="726" cy="406.7" r="0.9"/>
<circle class="pt" cx="742.7" cy="390" r="0.9"/><circle class="pt" cx="745" cy="391.7" r="0.9"/><circle class="pt" cx="747.7" cy="395" r="0.9"/><circle class="pt" cx="750.3" cy="397.3" r="0.9"/>
<circle class="pt" cx="766.7" cy="390.7" r="0.9"/><circle class="pt" cx="768.7" cy="391" r="0.9"/><circle class="pt" cx="770.7" cy="391.3" r="0.9"/><circle class="pt" cx="774.7" cy="395.3" r="0.9"/><circle class="pt" cx="777" cy="397.7" r="0.9"/>
<circle class="pt" cx="636.7" cy="490" r="0.9"/><circle class="pt" cx="639" cy="490.7" r="0.9"/><circle class="pt" cx="641.7" cy="491" r="0.9"/><circle class="pt" cx="644.7" cy="492" r="0.9"/><circle class="pt" cx="647.3" cy="506" r="0.9"/>
<circle class="pt" cx="610.7" cy="622" r="0.9"/><circle class="pt" cx="613.3" cy="625" r="0.9"/><circle class="pt" cx="615.7" cy="625.7" r="0.9"/><circle class="pt" cx="618.3" cy="626.7" r="0.9"/><circle class="pt" cx="621.3" cy="631.7" r="0.9"/>
</g>
</g>
</svg>
